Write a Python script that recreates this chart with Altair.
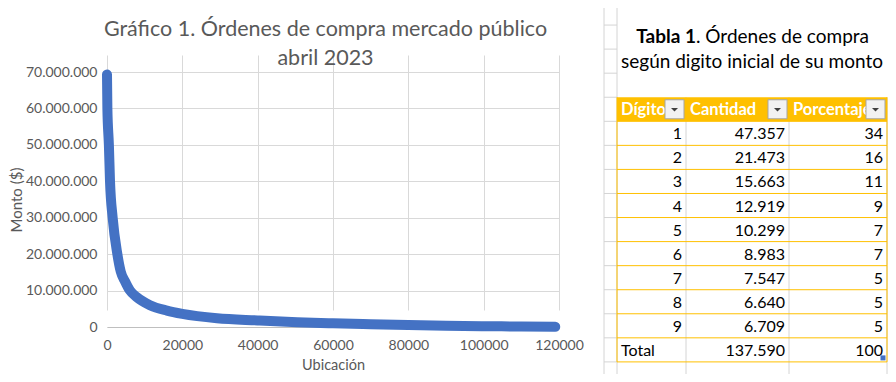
import altair as alt
import pandas as pd

# ---------------- data ----------------
ubicacion = [0, 100, 500, 800, 1500, 2750, 3650, 4800, 6100, 7900, 11400, 15900,
             20000, 29200, 40000, 50500, 60000, 70000, 80000, 90000, 100000, 110000, 119000]
monto_millones = [69.3, 60, 50, 40, 30, 20, 15.2, 12.5, 10, 8.2, 6.0, 4.5,
                  3.6, 2.4, 1.8, 1.3, 1.0, 0.75, 0.55, 0.35, 0.2, 0.15, 0.05]
ticks_monto = [0, 10000000, 20000000, 30000000, 40000000, 50000000, 60000000, 70000000]
ticks_ubicacion = [0, 20000, 40000, 60000, 80000, 100000, 120000]

titulo_grafico = ["Gráfico 1. Órdenes de compra mercado público", "abril 2023"]
eje_x_titulo = "Ubicación"
eje_y_titulo = "Monto ($)"

encabezados = ["Dígito", "Cantidad", "Porcentaje"]
digitos = ["1", "2", "3", "4", "5", "6", "7", "8", "9"]
cantidad = [47357, 21473, 15663, 12919, 10299, 8983, 7547, 6640, 6709]
porcentaje = [34, 16, 11, 9, 7, 7, 5, 5, 5]
total_etiqueta = "Total"
total_cantidad = 137590
total_porcentaje = 100
titulo_tabla_negrita = "Tabla 1"
titulo_tabla_resto = ". Órdenes de compra"
titulo_tabla_linea2 = "según digito inicial de su monto"

# ---------------- layout / style ----------------
W, H = 880, 366
FONT = "Lato"
AX = "#595959"
GRID = "#D9D9D9"
SHEET = "#D4D4D4"
GOLD = "#FFC000"
BLUE = "#4472C4"

# table grid: column boundaries (index 0..4) and spreadsheet rows (index 0..16)
TX = alt.Scale(domain=[0, 1, 2, 3, 4], range=[596, 609, 678, 781, 879], nice=False, zero=False)
TY = alt.Scale(domain=[0, 16], range=[-7, -7 + 16 * 24.06], nice=False, zero=False)


def miles(v):
    return f"{v:,}".replace(",", ".")


# ---------------- scatter (curve) ----------------
curve_df = pd.DataFrame({"ubicacion": ubicacion,
                         "monto": [m * 1_000_000 for m in monto_millones]})

curve = alt.Chart(curve_df).mark_line(
    color=BLUE, strokeWidth=10, strokeCap="round", strokeJoin="round", interpolate="monotone"
).encode(
    x=alt.X("ubicacion:Q",
            scale=alt.Scale(domain=[0, 120000], range=[99, 551], nice=False, zero=False),
            axis=alt.Axis(values=ticks_ubicacion, format="d", grid=True, gridColor=GRID,
                          domain=True, domainColor="#BFBFBF", ticks=False, tickSize=0,
                          labelPadding=11, labelFont=FONT, labelFontSize=14, labelColor=AX,
                          labelFlush=False, labelOverlap=False, offset=-47,
                          title=eje_x_titulo, titleFont=FONT, titleFontSize=14.5,
                          titleFontWeight="normal", titleColor=AX, titleY=38.5,
                          titleBaseline="middle")),
    y=alt.Y("monto:Q",
            scale=alt.Scale(domain=[0, 70000000], range=[319, 64], nice=False),
            axis=alt.Axis(values=ticks_monto, grid=True, gridColor=GRID, domain=False,
                          ticks=False, tickSize=0, labelPadding=10,
                          labelExpr="replace(format(datum.value, ','), regexp(',', 'g'), '.')",
                          labelFont=FONT, labelFontSize=14, labelColor=AX, labelFlush=False,
                          labelOverlap=False, offset=-99,
                          title=eje_y_titulo, titleFont=FONT, titleFontSize=15,
                          titleFontWeight="normal", titleColor=AX, titleX=-90.5, titleY=191.5,
                          titleBaseline="middle", titleAlign="center")),
)

# ---------------- table ----------------
lines = []
for r in range(0, 16):
    lines.append({"x": 0, "x2": 1, "y": r, "y2": r, "c": SHEET})
for xi in [0, 1]:
    lines.append({"x": xi, "x2": xi, "y": 0, "y2": 16, "c": SHEET})
for xi in [2, 3, 4]:
    lines.append({"x": xi, "x2": xi, "y": 4, "y2": 16, "c": SHEET})
lines_df = pd.DataFrame(lines)

gold = []
for r in range(5, 16):
    gold.append({"x": 1, "x2": 4, "y": r, "y2": r, "c": GOLD})
for xi in [1, 4]:
    gold.append({"x": xi, "x2": xi, "y": 4, "y2": 15, "c": GOLD})
gold_df = pd.DataFrame(gold)

right_cells = []
for i, d in enumerate(digitos):
    yy = 5 + i + 0.5
    right_cells.append({"x": 2, "y": yy, "t": d})
    right_cells.append({"x": 3, "y": yy, "t": miles(cantidad[i])})
    right_cells.append({"x": 4, "y": yy, "t": str(porcentaje[i])})
right_cells.append({"x": 3, "y": 14.5, "t": miles(total_cantidad)})
right_cells.append({"x": 4, "y": 14.5, "t": str(total_porcentaje)})
right_df = pd.DataFrame(right_cells)
left_df = pd.DataFrame([{"x": 1, "y": 14.5, "t": total_etiqueta}])
head_df = pd.DataFrame({"x": [1, 2, 3], "y": [4.5] * 3, "t": encabezados})
btn_df = pd.DataFrame({"x": [2, 3, 4], "y": [4.5] * 3})
hdr_rect_df = pd.DataFrame({"x": [1], "x2": [4], "y": [4], "y2": [5]})
corner_df = pd.DataFrame({"x": [4], "y": [15]})


def rules(df):
    return alt.Chart(df).mark_rule(strokeWidth=1).encode(
        x=alt.X("x:Q", scale=TX, axis=None), x2="x2:Q",
        y=alt.Y("y:Q", scale=TY, axis=None), y2="y2:Q",
        color=alt.Color("c:N", scale=None))


header_rect = alt.Chart(hdr_rect_df).mark_rect(color=GOLD).encode(
    x=alt.X("x:Q", scale=TX, axis=None), x2="x2:Q",
    y=alt.Y("y:Q", scale=TY, axis=None), y2="y2:Q")

cell_text_r = alt.Chart(right_df).mark_text(
    align="right", baseline="middle", font=FONT, fontSize=16, color="#000000", dx=-4, dy=1
).encode(x=alt.X("x:Q", scale=TX, axis=None), y=alt.Y("y:Q", scale=TY, axis=None), text="t:N")

cell_text_l = alt.Chart(left_df).mark_text(
    align="left", baseline="middle", font=FONT, fontSize=16, color="#000000", dx=4, dy=1
).encode(x=alt.X("x:Q", scale=TX, axis=None), y=alt.Y("y:Q", scale=TY, axis=None), text="t:N")

head_text = alt.Chart(head_df).mark_text(
    align="left", baseline="middle", font=FONT, fontSize=16.5, fontWeight="bold",
    color="white", dx=4, dy=1
).encode(x=alt.X("x:Q", scale=TX, axis=None), y=alt.Y("y:Q", scale=TY, axis=None), text="t:N")

buttons = alt.Chart(btn_df).mark_point(
    shape="square", filled=True, size=361, fill="#F2F2F2", stroke="#A5A5A5",
    strokeWidth=1, opacity=1, xOffset=-11.5
).encode(x=alt.X("x:Q", scale=TX, axis=None), y=alt.Y("y:Q", scale=TY, axis=None))

arrows = alt.Chart(btn_df).mark_point(
    shape="M-1,-0.5L1,-0.5L0,0.5Z", filled=True, size=49, color="#404040",
    opacity=1, xOffset=-11.5, yOffset=0.5
).encode(x=alt.X("x:Q", scale=TX, axis=None), y=alt.Y("y:Q", scale=TY, axis=None))

corner = alt.Chart(corner_df).mark_point(
    shape="square", filled=True, size=25, color=BLUE, opacity=1, xOffset=-4, yOffset=-4
).encode(x=alt.X("x:Q", scale=TX, axis=None), y=alt.Y("y:Q", scale=TY, axis=None))

table = alt.layer(rules(lines_df), header_rect, rules(gold_df), cell_text_r, cell_text_l,
                  head_text, buttons, arrows, corner)

# ---------------- titles ----------------
one = pd.DataFrame({"k": [0]})
t1 = alt.Chart(one).mark_text(align="center", baseline="alphabetic", font=FONT, fontSize=21.5,
                              color=AX).encode(
    x=alt.value(317.5), y=alt.value(28), text=alt.value(titulo_grafico[0]))
t2 = alt.Chart(one).mark_text(align="center", baseline="alphabetic", font=FONT, fontSize=21.5,
                              color=AX).encode(
    x=alt.value(317.5), y=alt.value(57), text=alt.value(titulo_grafico[1]))
tt1 = alt.Chart(one).mark_text(align="right", baseline="alphabetic", font=FONT, fontSize=19,
                               fontWeight="bold", color="#000000").encode(
    x=alt.value(688), y=alt.value(35), text=alt.value(titulo_tabla_negrita))
tt2 = alt.Chart(one).mark_text(align="left", baseline="alphabetic", font=FONT, fontSize=19,
                               color="#000000").encode(
    x=alt.value(688), y=alt.value(35), text=alt.value(titulo_tabla_resto))
tt3 = alt.Chart(one).mark_text(align="center", baseline="alphabetic", font=FONT, fontSize=19,
                               color="#000000").encode(
    x=alt.value(744), y=alt.value(60), text=alt.value(titulo_tabla_linea2))
titles = alt.layer(t1, t2, tt1, tt2, tt3)

chart = alt.layer(curve, table, titles).resolve_scale(
    x="independent", y="independent"
).properties(
    width=W, height=H, padding=0, background="white",
    autosize=alt.AutoSizeParams(type="none")
).configure_view(stroke=None)

chart.save("out.html", embed_options={"renderer": "svg", "actions": False})
